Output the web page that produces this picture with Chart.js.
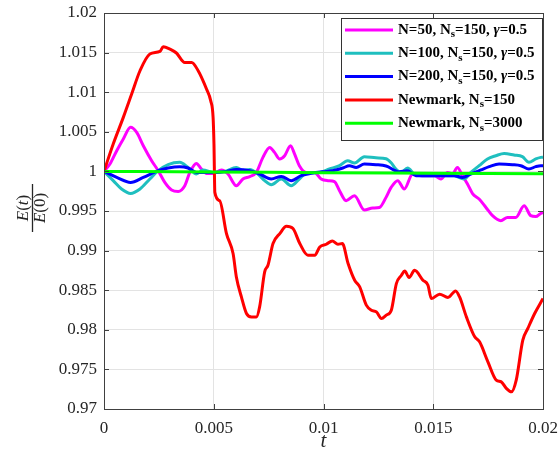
<!DOCTYPE html>
<html>
<head>
<meta charset="utf-8">
<title>Energy ratio</title>
<script src="https://cdn.jsdelivr.net/npm/chart.js@4.4.1/dist/chart.umd.min.js"></script>
<style>
  html, body { margin: 0; padding: 0; background: #fff; }
  #chart { display: block; }
</style>
</head>
<body>
<canvas id="chart" width="558" height="462"></canvas>
<script>
// Series data
const tMag = [0, 0.00027, 0.00058, 0.00088, 0.00121, 0.00149, 0.00179, 0.00217, 0.00247, 0.00277, 0.00308, 0.00338, 0.00368, 0.00391, 0.00421, 0.00444, 0.00467, 0.00497, 0.00535, 0.00565, 0.00603, 0.00633, 0.00664, 0.00694, 0.00724, 0.00755, 0.00777, 0.008, 0.00823, 0.0085, 0.00868, 0.0089, 0.00921, 0.00959, 0.00989, 0.0102, 0.0105, 0.01073, 0.01103, 0.01141, 0.01186, 0.01224, 0.01255, 0.01285, 0.01308, 0.01338, 0.01368, 0.01406, 0.01444, 0.01474, 0.01505, 0.01535, 0.01565, 0.01588, 0.0161, 0.01633, 0.01656, 0.01679, 0.01709, 0.0174, 0.0177, 0.01808, 0.01838, 0.01876, 0.01914, 0.01944, 0.01967, 0.0199, 0.02];
const eMag = [1, 1.00093, 1.00261, 1.00409, 1.00556, 1.00492, 1.00324, 1.00135, 1.00009, 0.99861, 0.99765, 0.99747, 0.99819, 0.99987, 1.00101, 1.0003, 0.99975, 0.99975, 1.00018, 0.99967, 0.99819, 0.99904, 0.99935, 0.99987, 1.00177, 1.00303, 1.0024, 1.00157, 1.00198, 1.00325, 1.0022, 1.00072, 0.99987, 0.99987, 0.99904, 0.99883, 0.9987, 0.99756, 0.9963, 0.99693, 0.99513, 0.99538, 0.99545, 0.99672, 0.99798, 0.99883, 0.99778, 0.99967, 0.99946, 0.99946, 0.99946, 0.99904, 0.99987, 0.99967, 1.0005, 0.99946, 0.99841, 0.9972, 0.99651, 0.99545, 0.99441, 0.99378, 0.99419, 0.99419, 0.99567, 0.99441, 0.99429, 0.99471, 0.9948];

const tCyan = [0, 0.00042, 0.0008, 0.00121, 0.00164, 0.00209, 0.00247, 0.00292, 0.00345, 0.00383, 0.00421, 0.00451, 0.00497, 0.0055, 0.00603, 0.00633, 0.00664, 0.00701, 0.00732, 0.00762, 0.00808, 0.00853, 0.0089, 0.00921, 0.00982, 0.01027, 0.01073, 0.0111, 0.01141, 0.01186, 0.01239, 0.01285, 0.01308, 0.0133, 0.01353, 0.01383, 0.01414, 0.01451, 0.01512, 0.01558, 0.01595, 0.0164, 0.01671, 0.01709, 0.01747, 0.01785, 0.01823, 0.01868, 0.01906, 0.01936, 0.01967, 0.0199, 0.02];
const eCyan = [1, 0.99883, 0.99778, 0.99722, 0.99778, 0.99904, 1.00009, 1.00085, 1.00114, 1.0005, 0.99967, 1.00018, 0.99987, 1.0, 1.0005, 1.00009, 1.00025, 0.99967, 0.99883, 0.99832, 0.99904, 0.99819, 0.99904, 0.99975, 0.99987, 1.0003, 1.00072, 1.00135, 1.00106, 1.00186, 1.00172, 1.0016, 1.0011, 1.0003, 0.99987, 1.00043, 0.99967, 0.99946, 0.99946, 0.99946, 0.99946, 0.99904, 0.99987, 1.00072, 1.00157, 1.00198, 1.00227, 1.00207, 1.00186, 1.00114, 1.00157, 1.00177, 1.0018];

const tBlue = [0, 0.00058, 0.00121, 0.00179, 0.00247, 0.00292, 0.00345, 0.00383, 0.00421, 0.00497, 0.00558, 0.00603, 0.00664, 0.00709, 0.00762, 0.00808, 0.00853, 0.00898, 0.00951, 0.00997, 0.01042, 0.01088, 0.01118, 0.01149, 0.01186, 0.01239, 0.01285, 0.01345, 0.01383, 0.01421, 0.01482, 0.01558, 0.01595, 0.01633, 0.01671, 0.01717, 0.01755, 0.018, 0.01861, 0.01899, 0.01936, 0.01967, 0.0199, 0.02];
const eBlue = [1, 0.99924, 0.99861, 0.99924, 1.00009, 1.00043, 1.0006, 1.00043, 0.99987, 0.99987, 1.0, 1.00025, 1.0001, 0.99967, 0.99904, 0.99937, 0.99883, 0.99946, 0.9998, 0.99996, 1.00009, 1.00043, 1.00072, 1.0005, 1.00093, 1.00085, 1.00068, 0.99996, 1.00009, 0.99946, 0.99946, 0.99946, 0.99946, 0.99924, 0.99967, 1.00018, 1.0006, 1.00093, 1.00085, 1.00072, 1.0003, 1.0006, 1.00072, 1.00072];

const tRed = [0, 0.00042, 0.00088, 0.00126, 0.00164, 0.00209, 0.00255, 0.0027, 0.003, 0.0033, 0.00368, 0.00399, 0.00429, 0.00467, 0.00486, 0.00497, 0.00501, 0.00505, 0.00527, 0.00558, 0.00588, 0.00603, 0.00626, 0.00649, 0.00672, 0.00694, 0.00709, 0.00732, 0.00747, 0.0077, 0.00801, 0.00831, 0.00861, 0.00892, 0.00929, 0.0096, 0.00983, 0.01013, 0.0104, 0.01066, 0.01086, 0.01112, 0.01142, 0.01165, 0.01195, 0.01218, 0.01241, 0.01264, 0.01286, 0.01309, 0.01332, 0.01355, 0.0137, 0.0139, 0.01415, 0.01453, 0.01476, 0.01491, 0.01529, 0.01567, 0.01602, 0.0162, 0.01651, 0.01689, 0.01711, 0.01749, 0.01787, 0.0181, 0.01833, 0.01856, 0.01878, 0.01908, 0.01931, 0.01962, 0.02];
const eRed = [1, 1.00346, 1.00682, 1.00977, 1.01271, 1.01482, 1.01515, 1.01574, 1.01545, 1.01495, 1.01376, 1.01376, 1.01271, 1.0104, 1.00893, 1.00682, 1.00346, 0.99735, 0.9963, 0.99215, 0.98963, 0.98668, 0.98415, 0.98206, 0.98163, 0.98163, 0.98289, 0.98731, 0.98815, 0.99089, 0.99215, 0.99307, 0.99278, 0.99089, 0.98941, 0.98941, 0.99046, 0.9908, 0.99122, 0.9908, 0.99089, 0.98837, 0.98626, 0.98542, 0.98311, 0.98248, 0.98226, 0.98143, 0.98185, 0.98248, 0.98584, 0.98689, 0.98743, 0.9866, 0.98752, 0.98626, 0.98563, 0.98395, 0.9845, 0.98408, 0.98491, 0.98415, 0.98163, 0.97911, 0.97848, 0.97596, 0.97365, 0.97343, 0.9726, 0.97217, 0.97365, 0.97869, 0.98017, 0.98206, 0.98395];

const tGreen = [0, 0.005, 0.01, 0.015, 0.02];
const eGreen = [1, 0.99993, 0.99984, 0.99977, 0.9997];

const seriesLabels = ['N=50, N_s=150, γ=0.5', 'N=100, N_s=150, γ=0.5', 'N=200, N_s=150, γ=0.5', 'Newmark, N_s=150', 'Newmark, N_s=3000'];
const seriesColors = ['#ff00ff', '#1fbfbf', '#0000ff', '#ff0000', '#00ff00'];

const xTicks = [0, 0.005, 0.01, 0.015, 0.02];
const yTicks = [0.97, 0.975, 0.98, 0.985, 0.99, 0.995, 1, 1.005, 1.01, 1.015, 1.02];

const SERIF = '"Liberation Serif", "Times New Roman", serif';
const TEXT_COLOR = '#262626';

function zip(ts, es) {
    return ts.map((t, i) => ({ x: t, y: es[i] }));
}

const seriesData = [zip(tMag, eMag), zip(tCyan, eCyan), zip(tBlue, eBlue), zip(tRed, eRed), zip(tGreen, eGreen)];

// rich text: "_s" is a subscript s, γ is italic
function drawRich(ctx, text, x, y, size, bold) {
    const parts = text.split(/(_s|γ)/).filter(p => p.length);
    const w = bold ? 'bold ' : '';
    parts.forEach(p => {
        if (p === '_s') {
            ctx.font = w + Math.round(size * 0.7) + 'px ' + SERIF;
            ctx.fillText('s', x, y + size * 0.3);
            x += ctx.measureText('s').width;
        } else if (p === 'γ') {
            ctx.font = 'italic ' + w + size + 'px ' + SERIF;
            ctx.fillText('γ', x, y);
            x += ctx.measureText('γ').width;
        } else {
            ctx.font = w + size + 'px ' + SERIF;
            ctx.fillText(p, x, y);
            x += ctx.measureText(p).width;
        }
    });
}

// "E(t)" style text with italic letters, centred at x
function drawMath(ctx, pieces, cx, y, size) {
    let total = 0;
    pieces.forEach(p => {
        ctx.font = (p.it ? 'italic ' : '') + size + 'px ' + SERIF;
        total += ctx.measureText(p.s).width;
    });
    let x = cx - total / 2;
    pieces.forEach(p => {
        ctx.font = (p.it ? 'italic ' : '') + size + 'px ' + SERIF;
        ctx.fillText(p.s, x, y);
        x += ctx.measureText(p.s).width;
    });
}

const decor = {
    id: 'decor',
    afterDraw(chart) {
        const ctx = chart.ctx;
        const a = chart.chartArea;
        const xs = chart.scales.x, ys = chart.scales.y;
        ctx.save();

        // frame with inward ticks
        ctx.strokeStyle = '#404040';
        ctx.lineWidth = 1;
        ctx.strokeRect(Math.round(a.left) + 0.5, Math.round(a.top) + 0.5, Math.round(a.right - a.left), Math.round(a.bottom - a.top));
        ctx.beginPath();
        xTicks.forEach(v => {
            const px = Math.round(xs.getPixelForValue(v)) + 0.5;
            ctx.moveTo(px, a.bottom); ctx.lineTo(px, a.bottom - 5);
            ctx.moveTo(px, a.top); ctx.lineTo(px, a.top + 5);
        });
        yTicks.forEach(v => {
            const py = Math.round(ys.getPixelForValue(v)) + 0.5;
            ctx.moveTo(a.left, py); ctx.lineTo(a.left + 5, py);
            ctx.moveTo(a.right, py); ctx.lineTo(a.right - 5, py);
        });
        ctx.stroke();

        // legend box
        const lx = 341, ly = 18, lw = 201, lh = 122;
        ctx.fillStyle = '#fff';
        ctx.fillRect(lx, ly, lw, lh);
        ctx.strokeStyle = '#333';
        ctx.strokeRect(lx + 0.5, ly + 0.5, lw, lh);
        seriesLabels.forEach((lab, i) => {
            const ry = 30 + i * 23.3;
            ctx.strokeStyle = seriesColors[i];
            ctx.lineWidth = 3;
            ctx.beginPath();
            ctx.moveTo(345, ry); ctx.lineTo(393, ry);
            ctx.stroke();
            ctx.fillStyle = '#000';
            ctx.textBaseline = 'middle';
            drawRich(ctx, lab, 398, ry, 15, true);
        });

        // x title
        ctx.fillStyle = TEXT_COLOR;
        ctx.textBaseline = 'alphabetic';
        ctx.textAlign = 'center';
        ctx.font = 'italic 21px ' + SERIF;
        ctx.fillText('t', (a.left + a.right) / 2, 447);

        // y title as a fraction E(t) / E(0)
        ctx.textAlign = 'left';
        ctx.translate(32, 208);
        ctx.rotate(-Math.PI / 2);
        drawMath(ctx, [{ s: 'E', it: true }, { s: '(' }, { s: 't', it: true }, { s: ')' }], 0, -4, 17);
        drawMath(ctx, [{ s: 'E', it: true }, { s: '(0)' }], 0, 13, 17);
        ctx.strokeStyle = TEXT_COLOR;
        ctx.lineWidth = 1.3;
        ctx.beginPath();
        ctx.moveTo(-24, 0.5); ctx.lineTo(24, 0.5);
        ctx.stroke();
        ctx.restore();
    }
};

function fmt(v) {
    return parseFloat(Number(v).toFixed(4)).toString();
}

const order = [5, 4, 3, 2, 1];
const chart = new Chart(document.getElementById('chart'), {
    type: 'line',
    data: {
        datasets: seriesData.map((d, i) => ({
            label: seriesLabels[i],
            data: d,
            borderColor: seriesColors[i],
            borderWidth: 3,
            pointRadius: 0,
            fill: false,
            cubicInterpolationMode: 'monotone',
            order: order[i]
        }))
    },
    options: {
        responsive: false,
        animation: false,
        devicePixelRatio: 1,
        layout: { padding: { top: 13, right: 15, left: 0, bottom: 0 } },
        scales: {
            x: {
                type: 'linear',
                min: 0,
                max: 0.02,
                afterBuildTicks: s => { s.ticks = xTicks.map(v => ({ value: v })); },
                afterFit: s => { s.height = 53; s.paddingLeft = 0; s.paddingRight = 0; },
                ticks: {
                    callback: fmt,
                    color: TEXT_COLOR,
                    font: { family: SERIF, size: 17 },
                    padding: 9,
                    maxRotation: 0,
                    autoSkip: false
                },
                grid: { color: '#e3e3e3', drawTicks: false },
                border: { display: false }
            },
            y: {
                type: 'linear',
                min: 0.97,
                max: 1.02,
                afterBuildTicks: s => { s.ticks = yTicks.map(v => ({ value: v })); },
                afterFit: s => { s.width = 104; s.paddingTop = 0; s.paddingBottom = 0; },
                ticks: {
                    callback: fmt,
                    color: TEXT_COLOR,
                    font: { family: SERIF, size: 17 },
                    padding: 7,
                    autoSkip: false
                },
                grid: { color: '#e3e3e3', drawTicks: false },
                border: { display: false }
            }
        },
        plugins: {
            legend: { display: false },
            tooltip: { enabled: false }
        }
    },
    plugins: [decor]
});
</script>
</body>
</html>
